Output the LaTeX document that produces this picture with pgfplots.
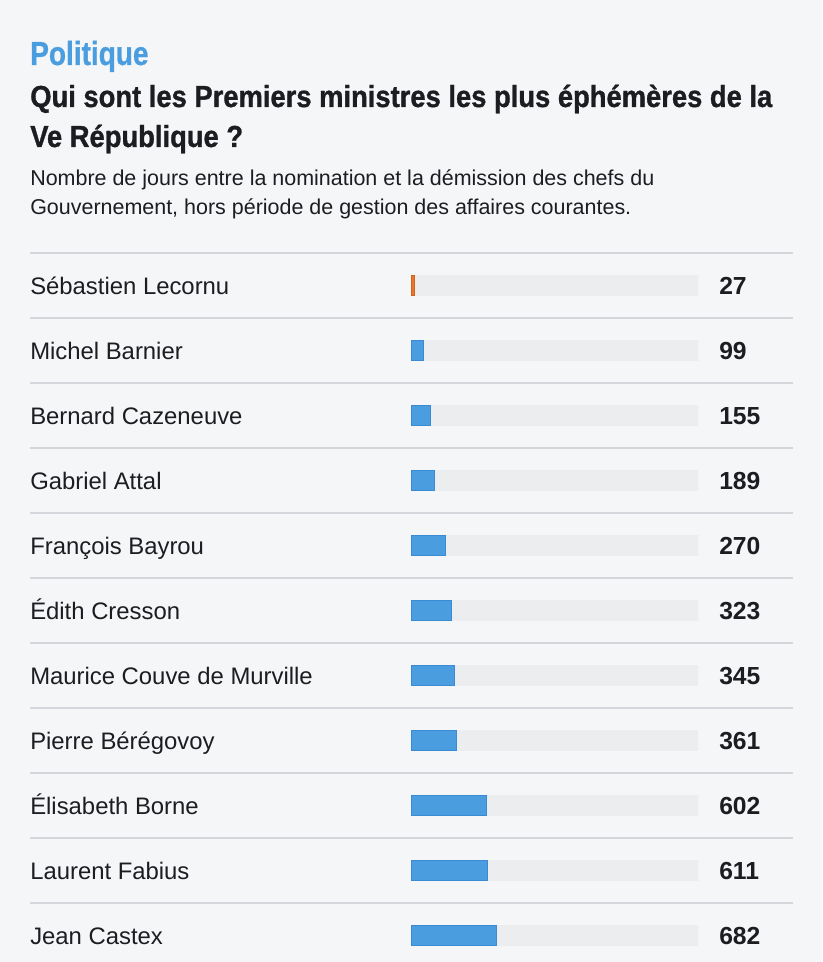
\documentclass[border=0pt]{standalone}
\usepackage{pgfplots}
\usepackage{pgfplotstable}
\pgfplotsset{compat=1.18}
\usepackage{fontspec}
\setmainfont{Liberation Sans}
\newfontfamily\kickerfont[FakeStretch=0.84, BoldFeatures={FakeBold=0.8}]{Liberation Sans}
\newfontfamily\titlefont[FakeStretch=0.9, BoldFeatures={FakeBold=1.0}]{Liberation Sans}

\definecolor{bgcol}{HTML}{F5F6F8}
\definecolor{trackcol}{HTML}{ECEDEF}
\definecolor{barblue}{HTML}{4A9EE0}
\definecolor{barblueedge}{HTML}{3A8BD4}
\definecolor{barorange}{HTML}{E8762F}
\definecolor{barorangeedge}{HTML}{D2631F}
\definecolor{kicker}{HTML}{4A9EE0}
\definecolor{ink}{HTML}{1B1D21}
\definecolor{rulecol}{HTML}{D3D6DB}

% row index, days in office
\pgfplotstableread{
row days
0   27
1   99
2   155
3   189
4   270
5   323
6   345
7   361
8   602
9   611
10  682
}\pmdata

\begin{document}
\begin{tikzpicture}
% page background
\fill[bgcol] (0,0) rectangle (616.5pt,-721.5pt);

% heading
\node[anchor=base west, inner sep=0pt, text=kicker] at (22.5pt,-48.75pt)
  {\kickerfont\bfseries\fontsize{25pt}{28pt}\selectfont Politique};
\node[anchor=base west, inner sep=0pt, text=ink] at (22.5pt,-80.25pt)
  {\titlefont\bfseries\fontsize{22.8pt}{26pt}\selectfont Qui sont les Premiers ministres les plus éphémères de la};
\node[anchor=base west, inner sep=0pt, text=ink] at (22.5pt,-110.25pt)
  {\titlefont\bfseries\fontsize{22.8pt}{26pt}\selectfont Ve République ?};
\node[anchor=base west, inner sep=0pt, text=ink] at (22.5pt,-139.3pt)
  {\fontsize{16.1pt}{20pt}\selectfont Nombre de jours entre la nomination et la démission des chefs du};
\node[anchor=base west, inner sep=0pt, text=ink] at (22.5pt,-161.25pt)
  {\fontsize{16.1pt}{20pt}\selectfont Gouvernement, hors période de gestion des affaires courantes.};

% row separators
\foreach \k in {0,...,10}{
  \draw[rulecol, line width=0.8pt] (22.5pt,{-189.75pt-\k*48.75pt}) -- (594.75pt,{-189.75pt-\k*48.75pt});
}

\begin{axis}[
  at={(308.25pt,-189.75pt)}, anchor=north west,
  scale only axis, width=215.25pt, height=536.25pt,
  xmin=0, xmax=2285, ymin=-0.5, ymax=10.5, y dir=reverse,
  axis line style={draw=none}, tick style={draw=none},
  clip=false,
  xtick=\empty,
  ytick={0,...,10},
  yticklabels={Sébastien Lecornu, Michel Barnier, Bernard Cazeneuve, Gabriel Attal,
    François Bayrou, Édith Cresson, Maurice Couve de Murville, Pierre Bérégovoy,
    Élisabeth Borne, Laurent Fabius, Jean Castex},
  major tick length=0pt,
  yticklabel style={anchor=base west, inner sep=0pt, xshift=-285.75pt, yshift=-6.4pt,
    text=ink, font=\fontsize{17.9pt}{20pt}\selectfont},
  every axis plot/.append style={bar shift=0pt, bar width=15.5pt},
]
% full-length track behind each bar
\addplot[xbar, fill=trackcol, draw=none] table[x expr=2285, y=row] {\pmdata};
% durations
\addplot[xbar, fill=barblue, draw=barblueedge, line width=0.6pt,
  restrict expr to domain={\thisrow{row}}{1:10}] table[x=days, y=row] {\pmdata};
\addplot[xbar, fill=barorange, draw=barorangeedge, line width=0.6pt,
  restrict expr to domain={\thisrow{row}}{0:0}] table[x=days, y=row] {\pmdata};
% value labels in the right-hand column
\addplot[draw=none, mark=none, nodes near coords, point meta=explicit symbolic,
  every node near coord/.append style={anchor=base west, inner sep=0pt, yshift=-6.6pt,
    text=ink, font=\bfseries\fontsize{18.5pt}{20pt}\selectfont}]
  table[x expr=2452, y=row, meta=days] {\pmdata};
\end{axis}

\pgfresetboundingbox
\path (0,0) rectangle (616.5pt,-721.5pt);
\end{tikzpicture}
\end{document}
